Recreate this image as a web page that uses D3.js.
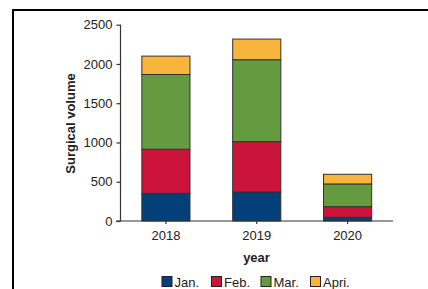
<!DOCTYPE html>
<html><head><meta charset="utf-8">
<script src="https://cdn.jsdelivr.net/npm/d3@7"></script>
<style>html,body{margin:0;padding:0;background:#fff;overflow:hidden}svg{display:block}</style>
</head><body>
<script>
const years = ["2018", "2019", "2020"];
const months = ["Jan.", "Feb.", "Mar.", "Apri."];
const jan = [353, 370, 47];
const feb = [561, 641, 136];
const mar = [952, 1043, 289];
const apr = [234, 263, 123];
const colors = ["#033f78", "#cc143b", "#649b40", "#f9b53b"];
const yTicks = [0, 500, 1000, 1500, 2000, 2500];

const W = 428, H = 289;
const svg = d3.select("body").append("svg").attr("width", W).attr("height", H)
  .style("font-family", "'Liberation Sans', Arial, sans-serif");

// outer frame
svg.append("path").attr("d", `M13,${H+5}V10H${W+5}`).attr("fill", "none")
  .attr("stroke", "#000").attr("stroke-width", 2);

const table = years.map((y, i) => ({year: y, "Jan.": jan[i], "Feb.": feb[i], "Mar.": mar[i], "Apri.": apr[i]}));
const stacked = d3.stack().keys(months)(table);

const x = d3.scaleBand().domain(years).range([120.5, 393]).paddingInner(0.47).paddingOuter(0.235);
const y = d3.scaleLinear().domain([0, 2500]).range([221, 24.7]);

const g = svg.append("g");
g.selectAll("g.s").data(stacked).join("g").attr("class", "s")
  .attr("fill", (d, i) => colors[i])
  .selectAll("rect").data(d => d).join("rect")
  .attr("x", d => x(d.data.year))
  .attr("width", x.bandwidth())
  .attr("y", d => y(d[1]))
  .attr("height", d => y(d[0]) - y(d[1]))
  .attr("stroke", "#333").attr("stroke-width", 1);

// y axis
const ya = svg.append("g").attr("transform", "translate(120.5,0)")
  .call(d3.axisLeft(y).tickValues(yTicks).tickSize(4).tickPadding(4).tickFormat(d3.format("d")));
ya.select(".domain").attr("d", `M0,${y(2500)}V${y(0)}`);
// x axis
const xa = svg.append("g").attr("transform", `translate(0,${y(0)})`)
  .call(d3.axisBottom(x).tickSize(3).tickPadding(7));
xa.select(".domain").attr("d", `M116,0H393`);
[ya, xa].forEach(a => {
  a.selectAll("text").attr("font-size", 13).attr("fill", "#222").attr("font-family", "'Liberation Sans', Arial, sans-serif");
  a.selectAll("line,path").attr("stroke", "#333").attr("stroke-width", 1.2);
});

svg.append("text").attr("transform", "translate(75,123.5) rotate(-90)").attr("text-anchor", "middle")
  .attr("font-size", 13).attr("font-weight", "bold").attr("fill", "#222").text("Surgical volume");
svg.append("text").attr("x", 256.5).attr("y", 261.5).attr("text-anchor", "middle")
  .attr("font-size", 13).attr("font-weight", "bold").attr("fill", "#222").text("year");

const leg = svg.append("g").selectAll("g").data(months).join("g")
  .attr("transform", (d, i) => `translate(${162 + i * 49.5},276.5)`);
leg.append("rect").attr("width", 10).attr("height", 10).attr("fill", (d, i) => colors[i])
  .attr("stroke", "#222").attr("stroke-width", 1);
leg.append("text").attr("x", 12.5).attr("y", 10).attr("font-size", 13).attr("fill", "#222").text(d => d);
</script>
</body></html>
